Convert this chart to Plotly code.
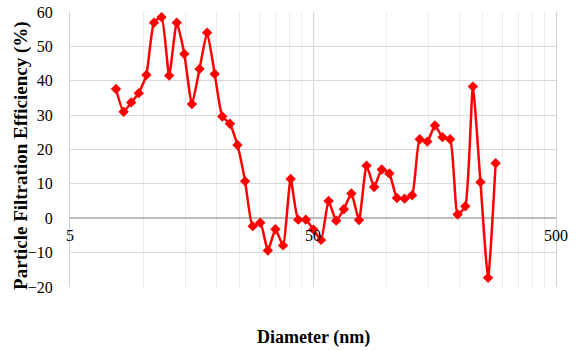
import plotly.graph_objects as go

diameter_nm = [7.73, 8.31, 8.93, 9.59, 10.31, 11.08, 11.90, 12.79, 13.75, 14.77,
               15.87, 17.06, 18.33, 19.70, 21.17, 22.75, 24.44, 26.27, 28.23, 30.33,
               32.60, 35.03, 37.64, 40.45, 43.47, 46.71, 50.19, 53.94, 57.96, 62.28,
               66.93, 71.93, 77.29, 83.06, 89.25, 95.91, 103.07, 110.75, 119.02, 127.90,
               137.44, 147.69, 158.71, 170.55, 183.27, 196.94, 211.64, 227.42, 244.39, 262.62,
               282.21]
efficiency_pct = [37.6, 31.0, 33.7, 36.4, 41.7, 56.9, 58.5, 41.5, 56.9, 47.8,
                  33.2, 43.4, 54.0, 42.0, 29.6, 27.5, 21.3, 10.8, -2.3, -1.3,
                  -9.4, -3.2, -7.9, 11.4, -0.4, -0.4, -3.3, -6.3, 5.0, -0.7,
                  2.6, 7.2, -0.5, 15.3, 9.1, 14.2, 13.0, 5.9, 5.7, 6.7,
                  23.0, 22.3, 27.0, 23.6, 23.0, 1.1, 3.5, 38.3, 10.5, -17.3,
                  16.0]

x_major_ticks = [5, 50, 500]
x_minor_ticks = [10, 15, 20, 25, 30, 35, 40, 45,
                 100, 150, 200, 250, 300, 350, 400, 450]
y_ticks = [-20, -10, 0, 10, 20, 30, 40, 50, 60]

FONT = "Liberation Serif"

fig = go.Figure()
fig.add_trace(go.Scatter(
    x=diameter_nm, y=efficiency_pct, mode="lines+markers",
    line=dict(color="#ff0000", width=2.5, shape="spline", smoothing=0.5),
    marker=dict(symbol="diamond", size=8, color="#ff0000"),
    showlegend=False,
))

fig.update_layout(
    width=576, height=351,
    margin=dict(l=70, r=20, t=12, b=64),
    paper_bgcolor="white", plot_bgcolor="white",
    font=dict(family=FONT, size=14, color="#000000"),
    xaxis=dict(
        type="log", range=[0.69897, 2.69897],
        tickvals=x_major_ticks, ticktext=[str(v) for v in x_major_ticks],
        showgrid=True, gridcolor="#d4d4d4", gridwidth=1,
        minor=dict(tickvals=x_minor_ticks, showgrid=True, gridcolor="#ececec", gridwidth=1, ticks=""),
        ticks="", showline=False, zeroline=False,
        anchor="free", position=0.25,
        ticklabelstandoff=6, automargin=False,
        tickfont=dict(family=FONT, size=16),
        title=None,
    ),
    yaxis=dict(
        range=[-20, 60], tickvals=y_ticks,
        showgrid=True, gridcolor="#d9d9d9", gridwidth=1,
        zeroline=True, zerolinecolor="#bdbdbd", zerolinewidth=1.5,
        showline=True, linecolor="#d0d0d0", linewidth=1, mirror=True,
        ticks="", ticklabelstandoff=13, automargin=False,
        tickfont=dict(family=FONT, size=16),
        title=None,
    ),
    annotations=[
        dict(text="<b>Diameter (nm)</b>", xref="paper", yref="paper", x=0.5, y=-0.185,
             xanchor="center", yanchor="middle", showarrow=False,
             font=dict(family=FONT, size=18)),
        dict(text="<b>Particle Filtration Efficiency (%)</b>", xref="paper", yref="paper",
             x=-0.101, y=0.48, xanchor="center", yanchor="middle", textangle=-90,
             showarrow=False, font=dict(family=FONT, size=19)),
    ],
)

fig.write_html("out.html")
